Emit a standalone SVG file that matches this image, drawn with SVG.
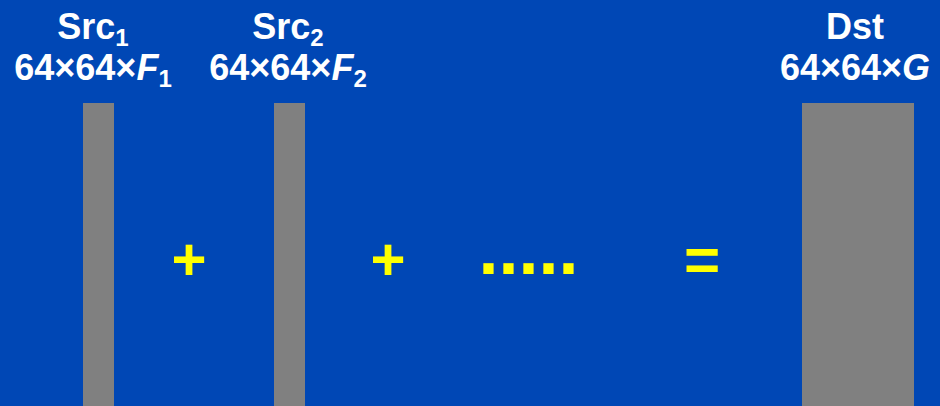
<svg xmlns="http://www.w3.org/2000/svg" width="940" height="406" viewBox="0 0 940 406">
<style>
.lbl{font-family:"Liberation Sans",Arial,sans-serif;font-weight:bold;font-size:36px;fill:#fff;text-anchor:middle}
.sub{font-size:24px}
.it{font-style:italic}
.bar{fill:#808080}
.op{font-family:"Liberation Sans",Arial,sans-serif;font-weight:bold;fill:#ffff00;text-anchor:middle}
</style>
<rect width="940" height="406" fill="#0047B5"/>
<g id="src1">
<rect class="bar" x="83" y="103" width="31" height="303"/>
<text class="lbl" x="93" y="39">Src<tspan class="sub" dy="7">1</tspan></text>
<text class="lbl" x="93" y="80">64×64×<tspan class="it">F</tspan><tspan class="sub" dy="7">1</tspan></text>
</g>
<g id="src2">
<rect class="bar" x="274" y="103" width="31" height="303"/>
<text class="lbl" x="288" y="39">Src<tspan class="sub" dy="7">2</tspan></text>
<text class="lbl" x="288" y="80">64×64×<tspan class="it">F</tspan><tspan class="sub" dy="7">2</tspan></text>
</g>
<g id="dst">
<rect class="bar" x="802" y="103" width="112" height="303"/>
<text class="lbl" x="855" y="39">Dst</text>
<text class="lbl" x="855" y="80">64×64×<tspan class="it">G</tspan></text>
</g>
<g id="operators">
<text class="op" x="189" y="280" font-size="60">+</text>
<text class="op" x="388" y="280" font-size="60">+</text>
<text class="op" x="528.5" y="274" font-size="72">.....</text>
<text class="op" x="702" y="281" font-size="62">=</text>
</g>
</svg>
